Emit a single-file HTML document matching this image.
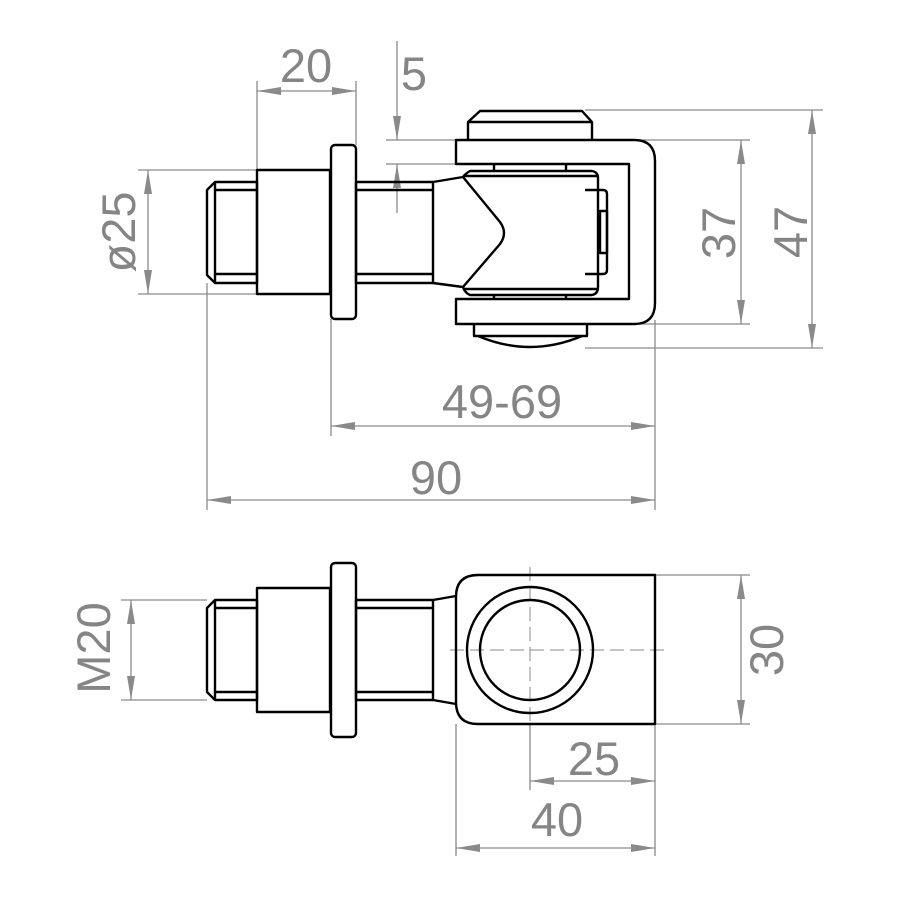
<!DOCTYPE html>
<html><head><meta charset="utf-8"><style>
html,body{margin:0;padding:0;background:#fff;}
svg{display:block}
text{font-family:"Liberation Sans","DejaVu Sans",sans-serif;font-size:47px;fill:#858585;}
</style></head><body>
<svg width="898" height="898" viewBox="0 0 898 898" xmlns="http://www.w3.org/2000/svg">
<defs>
<marker id="a" viewBox="0 0 24 8" refX="24" refY="4" markerWidth="24" markerHeight="8" markerUnits="userSpaceOnUse" orient="auto-start-reverse"><path d="M0,0 L24,4 L0,8 z" fill="#8a8a8a"/></marker>
</defs>
<g stroke="#8a8a8a" stroke-width="1.3" fill="none">
<line x1="257" y1="81" x2="257" y2="170"/><line x1="356" y1="81" x2="356" y2="145"/>
<line x1="257" y1="91" x2="356" y2="91" marker-start="url(#a)" marker-end="url(#a)"/>
<line x1="397" y1="41" x2="397" y2="140" marker-end="url(#a)"/>
<line x1="397" y1="213" x2="397" y2="164" marker-end="url(#a)"/>
<line x1="386" y1="140" x2="456" y2="140"/><line x1="386" y1="164" x2="456" y2="164"/>
<line x1="138" y1="170" x2="257" y2="170"/><line x1="138" y1="294" x2="257" y2="294"/>
<line x1="148" y1="170" x2="148" y2="294" marker-start="url(#a)" marker-end="url(#a)"/>
<line x1="630" y1="140" x2="750" y2="140"/><line x1="630" y1="324" x2="750" y2="324"/>
<line x1="741" y1="140" x2="741" y2="324" marker-start="url(#a)" marker-end="url(#a)"/>
<line x1="585" y1="110" x2="823" y2="110"/><line x1="585" y1="348" x2="823" y2="348"/>
<line x1="812" y1="110" x2="812" y2="348" marker-start="url(#a)" marker-end="url(#a)"/>
<line x1="655" y1="320" x2="655" y2="510"/><line x1="331" y1="319" x2="331" y2="436"/><line x1="207" y1="283" x2="207" y2="510"/>
<line x1="331" y1="426" x2="655" y2="426" marker-start="url(#a)" marker-end="url(#a)"/>
<line x1="207" y1="500" x2="655" y2="500" marker-start="url(#a)" marker-end="url(#a)"/>
<line x1="121" y1="600" x2="207" y2="600"/><line x1="121" y1="700" x2="207" y2="700"/>
<line x1="131" y1="600" x2="131" y2="700" marker-start="url(#a)" marker-end="url(#a)"/>
<line x1="655" y1="575" x2="750" y2="575"/><line x1="655" y1="724" x2="750" y2="724"/>
<line x1="741" y1="575" x2="741" y2="724" marker-start="url(#a)" marker-end="url(#a)"/>
<line x1="530" y1="724" x2="530" y2="790"/><line x1="655" y1="724" x2="655" y2="856"/><line x1="456" y1="724" x2="456" y2="856"/>
<line x1="530" y1="781" x2="655" y2="781" marker-start="url(#a)" marker-end="url(#a)"/>
<line x1="456" y1="848" x2="655" y2="848" marker-start="url(#a)" marker-end="url(#a)"/>
<line x1="450" y1="650" x2="665" y2="650" stroke-dasharray="14,6" stroke-width="1"/>
<line x1="530" y1="567" x2="530" y2="735" stroke-dasharray="14,6" stroke-width="1"/>
</g>
<text x="306" y="82" text-anchor="middle">20</text>
<text x="414" y="90" text-anchor="middle">5</text>
<text transform="translate(135,232) rotate(-90)" text-anchor="middle">ø25</text>
<text transform="translate(735,233) rotate(-90)" text-anchor="middle">37</text>
<text transform="translate(807,232) rotate(-90)" text-anchor="middle">47</text>
<text x="502" y="418" text-anchor="middle">49-69</text>
<text x="436" y="494" text-anchor="middle">90</text>
<text transform="translate(110,648) rotate(-90)" text-anchor="middle">M20</text>
<text transform="translate(783,650) rotate(-90)" text-anchor="middle">30</text>
<text x="594" y="775" text-anchor="middle">25</text>
<text x="557" y="836" text-anchor="middle">40</text>

<g stroke="#000" stroke-width="2.4" fill="none" stroke-linejoin="round">
<path d="M215,182 L257,182 L257,283 L215,283 L207,275 L207,190 Z"/>
<line x1="215" y1="182" x2="215" y2="283"/>
<line x1="215" y1="190" x2="257" y2="190"/><line x1="215" y1="274" x2="257" y2="274"/>
<rect x="257" y="170" width="73" height="124"/>
<rect x="331" y="145" width="25" height="174" rx="4"/>
<rect x="356" y="182" width="77" height="101"/>
<line x1="356" y1="190" x2="433" y2="190"/><line x1="356" y1="274" x2="433" y2="274"/>
<path d="M433,182 L463,177 Q465,174 470,171 L592,171 Q598,172 598,178 L598,287 Q598,294 592,295 L470,295 Q465,293 463,287 L433,283"/>
<line x1="463" y1="176" x2="598" y2="176"/><line x1="463" y1="289" x2="598" y2="289"/>
<path d="M463,177 L500,222 Q508,233 500,244 L463,287"/>
<path d="M585,190 L603,190 Q607,190 607,194 L607,270 Q607,274 603,274 L585,274"/>
<rect x="600" y="211" width="7" height="42"/>
<path d="M456,140 L634,140 Q655,140 655,161 L655,303 Q655,324 634,324 L456,324 L456,299 L629,299 L629,164 L456,164 Z"/>
<line x1="494" y1="164" x2="494" y2="171"/><line x1="566" y1="164" x2="566" y2="171"/>
<line x1="494" y1="295" x2="494" y2="299"/><line x1="566" y1="295" x2="566" y2="299"/>
<path d="M468,140 L468,122 L480,111 L582,111 L592,122 L592,140"/>
<line x1="468" y1="122" x2="592" y2="122"/>
<path d="M474,324 L474,336 L587,336 L587,324"/>
<path d="M478,336 Q530,358 582,336"/>
<path d="M215,600 L257,600 L257,700 L215,700 L207,692 L207,608 Z"/>
<line x1="215" y1="600" x2="215" y2="700"/>
<line x1="215" y1="608" x2="257" y2="608"/><line x1="215" y1="692" x2="257" y2="692"/>
<rect x="257" y="588" width="73" height="124"/>
<rect x="331" y="563" width="25" height="174" rx="4"/>
<rect x="356" y="600" width="77" height="100"/>
<line x1="356" y1="608" x2="433" y2="608"/><line x1="356" y1="692" x2="433" y2="692"/>
<path d="M433,600 L456,596"/><path d="M433,700 L456,704"/>
<path d="M478,575 L655,575 L655,724 L478,724 Q456,724 456,702 L456,597 Q456,575 478,575 Z"/>
<circle cx="530" cy="650" r="63"/>
<circle cx="530" cy="650" r="50"/>
</g>
</svg>
</body></html>
